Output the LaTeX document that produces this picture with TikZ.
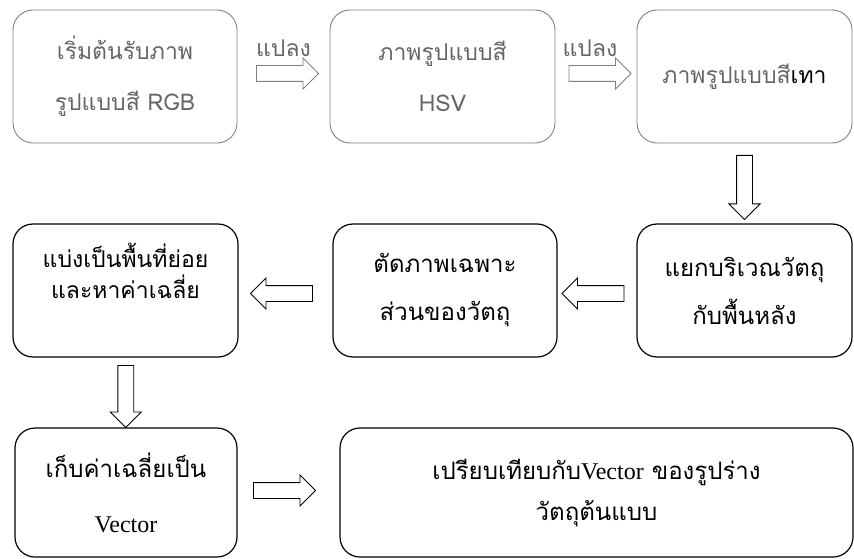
\documentclass[tikz,border=0pt]{standalone}
\usepackage{fontspec}
\newfontfamily\thaifont[Script=Thai]{Loma}
\newfontfamily\latinfont{Liberation Serif}
\usetikzlibrary{shapes.arrows,calc,positioning}
\definecolor{fadegray}{gray}{0.5}
\definecolor{fadetext}{gray}{0.4}

\tikzset{
  procbox/.style={draw, rounded corners=20pt, line width=1.2pt, align=center, inner sep=0pt,
    font=\thaifont\fontsize{24}{48}\selectfont},
  fadedbox/.style={procbox, draw=fadegray, text=fadetext, line width=0.9pt,
    font=\thaifont\fontsize{23}{51}\selectfont},
  blockarrow/.style={draw, single arrow, single arrow head extend=7.5pt, inner sep=7.5pt,
    text width=0pt, text height=0pt, text depth=0pt, minimum height=62pt, line width=0.9pt},
  fadedarrow/.style={blockarrow, draw=fadegray},
  steplabel/.style={text=fadetext, inner sep=0pt, font=\thaifont\fontsize{23}{26}\selectfont}
}

\begin{document}
\begin{tikzpicture}[x=1pt, y=-1pt]
  \useasboundingbox (0,0) rectangle (854,559);

  % first row
  \node[fadedbox, minimum width=224pt, minimum height=133pt] (rgbimg) at (125,76.5) {เริ่มต้นรับภาพ\\รูปแบบสี RGB};
  \node[fadedbox, minimum width=225pt, minimum height=133pt] (hsvimg) at (442.5,76.5) {ภาพรูปแบบสี\\HSV};
  \node[fadedbox, minimum width=215pt, minimum height=133pt] (grayimg) at (744.5,76.5) {ภาพรูปแบบสี{\color{black}เทา}};

  % second row
  \node[procbox, minimum width=215pt, minimum height=133pt] (objsep) at (744.5,290.5) {แยกบริเวณวัตถุ\\กับพื้นหลัง};
  \node[procbox, minimum width=224pt, minimum height=133pt] (objcrop) at (445,290.5) {ตัดภาพเฉพาะ\\ส่วนของวัตถุ};
  \node[procbox, minimum width=225pt, minimum height=133pt, text depth=40pt,
    font=\thaifont\fontsize{23}{31}\selectfont] (subarea) at (125.5,290.5) {แบ่งเป็นพื้นที่ย่อย\\และหาค่าเฉลี่ย};

  % third row
  \node[procbox, minimum width=222pt, minimum height=129pt, font=\thaifont\fontsize{24}{55}\selectfont] (vecstore) at (126,492.5) {เก็บค่าเฉลี่ยเป็น\\{\latinfont Vector}};
  \node[procbox, minimum width=513pt, minimum height=129pt, font=\thaifont\fontsize{24}{41}\selectfont] (vecmatch) at (596.5,492.5) {เปรียบเทียบกับ{\latinfont Vector} ของรูปร่าง\\วัตถุต้นแบบ};

  % block arrows
  \node[fadedarrow, yshift=3pt] (cvt1) at ($(rgbimg.east)!0.5!(hsvimg.west)$) {};
  \node[fadedarrow, yshift=3pt] (cvt2) at ($(hsvimg.east)!0.5!(grayimg.west)$) {};
  \node[steplabel, above=8pt of cvt1] (cvt1lbl) {แปลง};
  \node[steplabel, above=8pt of cvt2, xshift=-6pt] (cvt2lbl) {แปลง};
  \node[blockarrow, shape border rotate=270, minimum height=64pt] (down1) at ($(grayimg.south)!0.5!(objsep.north)$) {};
  \node[blockarrow, shape border rotate=180, yshift=-3pt] (left1) at ($(objsep.west)!0.5!(objcrop.east)$) {};
  \node[blockarrow, shape border rotate=180, yshift=-3pt] (left2) at ($(objcrop.west)!0.5!(subarea.east)$) {};
  \node[blockarrow, shape border rotate=270] (down2) at ($(subarea.south)!0.5!(vecstore.north)$) {};
  \node[blockarrow, xshift=-8pt, yshift=2pt] (right1) at ($(vecstore.east)!0.5!(vecmatch.west)$) {};
\end{tikzpicture}
\end{document}
